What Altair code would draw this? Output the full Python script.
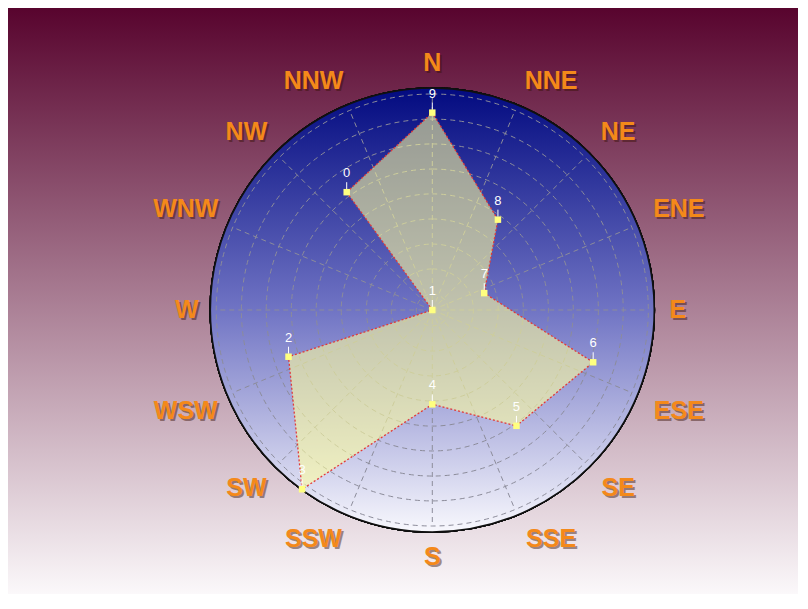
import math
import altair as alt
import pandas as pd

# ---------------- data ----------------
POINT_LABELS = ["0", "1", "2", "3", "4", "5", "6", "7", "8", "9"]
POINT_VALUES = [65.6, 0.0, 68.1, 99.8, 42.5, 64.5, 76.2, 24.6, 50.3, 88.9]
DIRECTIONS = ["N", "NNE", "NE", "ENE", "E", "ESE", "SE", "SSE",
              "S", "SSW", "SW", "WSW", "W", "WNW", "NW", "NNW"]
RING_VALUES = [7.2, 18.5, 29.7, 41.0, 52.3, 63.5, 74.8, 86.0, 97.3]
AXIS_MAX = 100.0

# ---------------- layout ----------------
W, H = 790, 586
CX, CY = 424.3, 302.0          # centre of the polar area (px, inside the view)
RPX = 222.0                    # px radius of AXIS_MAX
K = RPX / AXIS_MAX
LABEL_R = 236                  # px radius where the label box corner sits
CHAR_W = 19                    # approx px width per label character
HALF_H = 11                    # approx half text height, px

xdom = [-CX / K, (W - CX) / K]
ydom = [-(H - CY) / K, CY / K]
xs = alt.Scale(domain=xdom, nice=False, zero=False)
ys = alt.Scale(domain=ydom, nice=False, zero=False)
rs = alt.Scale(type="linear", domain=[0, AXIS_MAX], range=[0, RPX], zero=True)
TWO_PI = 2 * math.pi

pts = pd.DataFrame({"label": POINT_LABELS, "value": POINT_VALUES,
                    "idx": list(range(len(POINT_LABELS)))})
dirs = pd.DataFrame({"dir": DIRECTIONS, "i": list(range(len(DIRECTIONS)))})
rings = pd.DataFrame({"r": RING_VALUES})

page_grad = alt.Gradient(gradient="linear", x1=0, x2=0, y1=0, y2=1,
                         stops=[alt.GradientStop(offset=0, color="#58042e"),
                                alt.GradientStop(offset=1, color="#fbf8fa")])
disc_grad = alt.Gradient(gradient="linear", x1=0, x2=0, y1=0, y2=1,
                         stops=[alt.GradientStop(offset=0, color="#020a80"),
                                alt.GradientStop(offset=0.5, color="#7074c4"),
                                alt.GradientStop(offset=1, color="#f8f8fd")])

X0 = alt.X(datum=0, scale=xs, axis=None)
Y0 = alt.Y(datum=0, scale=ys, axis=None)

background = alt.Chart(pts).mark_rect(fill=page_grad).encode(
    x=alt.X(datum=xdom[0], scale=xs, axis=None),
    x2=alt.X2(datum=xdom[1]),
    y=alt.Y(datum=ydom[0], scale=ys, axis=None),
    y2=alt.Y2(datum=ydom[1]),
)

disc = alt.Chart(pts).mark_arc(theta=0, theta2=TWO_PI, fill=disc_grad,
                               stroke="#101010", strokeWidth=1.6).encode(
    x=X0, y=Y0, radius=alt.Radius(datum=AXIS_MAX, scale=rs))

ring_layer = alt.Chart(rings).mark_arc(theta=0, theta2=TWO_PI, filled=False,
                                       stroke="#8c8c9a", strokeWidth=1,
                                       strokeDash=[5, 4]).encode(
    x=X0, y=Y0, radius=alt.Radius("r:Q", scale=rs, stack=False))

spokes = alt.Chart(dirs).transform_calculate(
    a=f"datum.i * {360 / len(DIRECTIONS)} * PI / 180",
    x0="0", y0="0",
    sx=f"{RING_VALUES[-1]} * sin(datum.a)",
    sy=f"{RING_VALUES[-1]} * cos(datum.a)",
).mark_rule(stroke="#8c8c9a", strokeWidth=1, strokeDash=[5, 4]).encode(
    x=alt.X("x0:Q", scale=xs, axis=None), y=alt.Y("y0:Q", scale=ys, axis=None),
    x2="sx:Q", y2="sy:Q")

n = len(POINT_LABELS)
poly_base = alt.Chart(pts).transform_calculate(
    a=f"((360 - {360 / n} * (datum.idx + 1)) % 360) * PI / 180",
    px="datum.value * sin(datum.a)",
    py="datum.value * cos(datum.a)",
)
PX = alt.X("px:Q", scale=xs, axis=None)
PY = alt.Y("py:Q", scale=ys, axis=None)

polygon = poly_base.mark_line(interpolate="linear-closed", fill="#ffff9d",
                              fillOpacity=0.57, stroke="#e23a3a",
                              strokeWidth=1.3, strokeDash=[2, 2]).encode(
    x=PX, y=PY, order="idx:Q")

ticks = poly_base.mark_rule(color="white", strokeWidth=1, yOffset=-3,
                            y2Offset=-10).encode(x=PX, y=PY, y2="py:Q")

markers = poly_base.mark_square(size=42, color="#ffff80", opacity=1).encode(x=PX, y=PY)

num_labels = poly_base.mark_text(color="white", fontSize=13, font="Liberation Sans",
                                 dy=-19, align="center", baseline="middle").encode(
    x=PX, y=PY, text="label:N")

dir_base = alt.Chart(dirs).transform_calculate(
    a=f"datum.i * {360 / len(DIRECTIONS)} * PI / 180",
    s="sin(datum.a)",
    c="cos(datum.a)",
    sgx="abs(datum.s) < 1e-6 ? 0 : (datum.s > 0 ? 1 : -1)",
    sgy="abs(datum.c) < 1e-6 ? 0 : (datum.c > 0 ? 1 : -1)",
    lx=f"({LABEL_R} * datum.s + length(datum.dir) * {CHAR_W / 2} * datum.sgx) / {K}",
    ly=f"({LABEL_R} * datum.c + {HALF_H} * datum.sgy) / {K}",
)
LX = alt.X("lx:Q", scale=xs, axis=None)
LY = alt.Y("ly:Q", scale=ys, axis=None)
dir_shadow = dir_base.mark_text(color="#3a1206", opacity=0.45, fontSize=25,
                                fontWeight="bold", font="Liberation Sans",
                                dx=2, dy=2, align="center", baseline="middle").encode(
    x=LX, y=LY, text="dir:N")
dir_text = dir_base.mark_text(color="#f4891a", fontSize=25, fontWeight="bold",
                              font="Liberation Sans", align="center",
                              baseline="middle").encode(x=LX, y=LY, text="dir:N")

chart = alt.layer(background, disc, ring_layer, spokes, polygon, ticks, markers,
                  num_labels, dir_shadow, dir_text).properties(
    width=W, height=H, padding=0, autosize="none", background="white"
).configure_view(strokeWidth=0)

chart.save("out.html", embed_options={"renderer": "svg", "actions": False})
